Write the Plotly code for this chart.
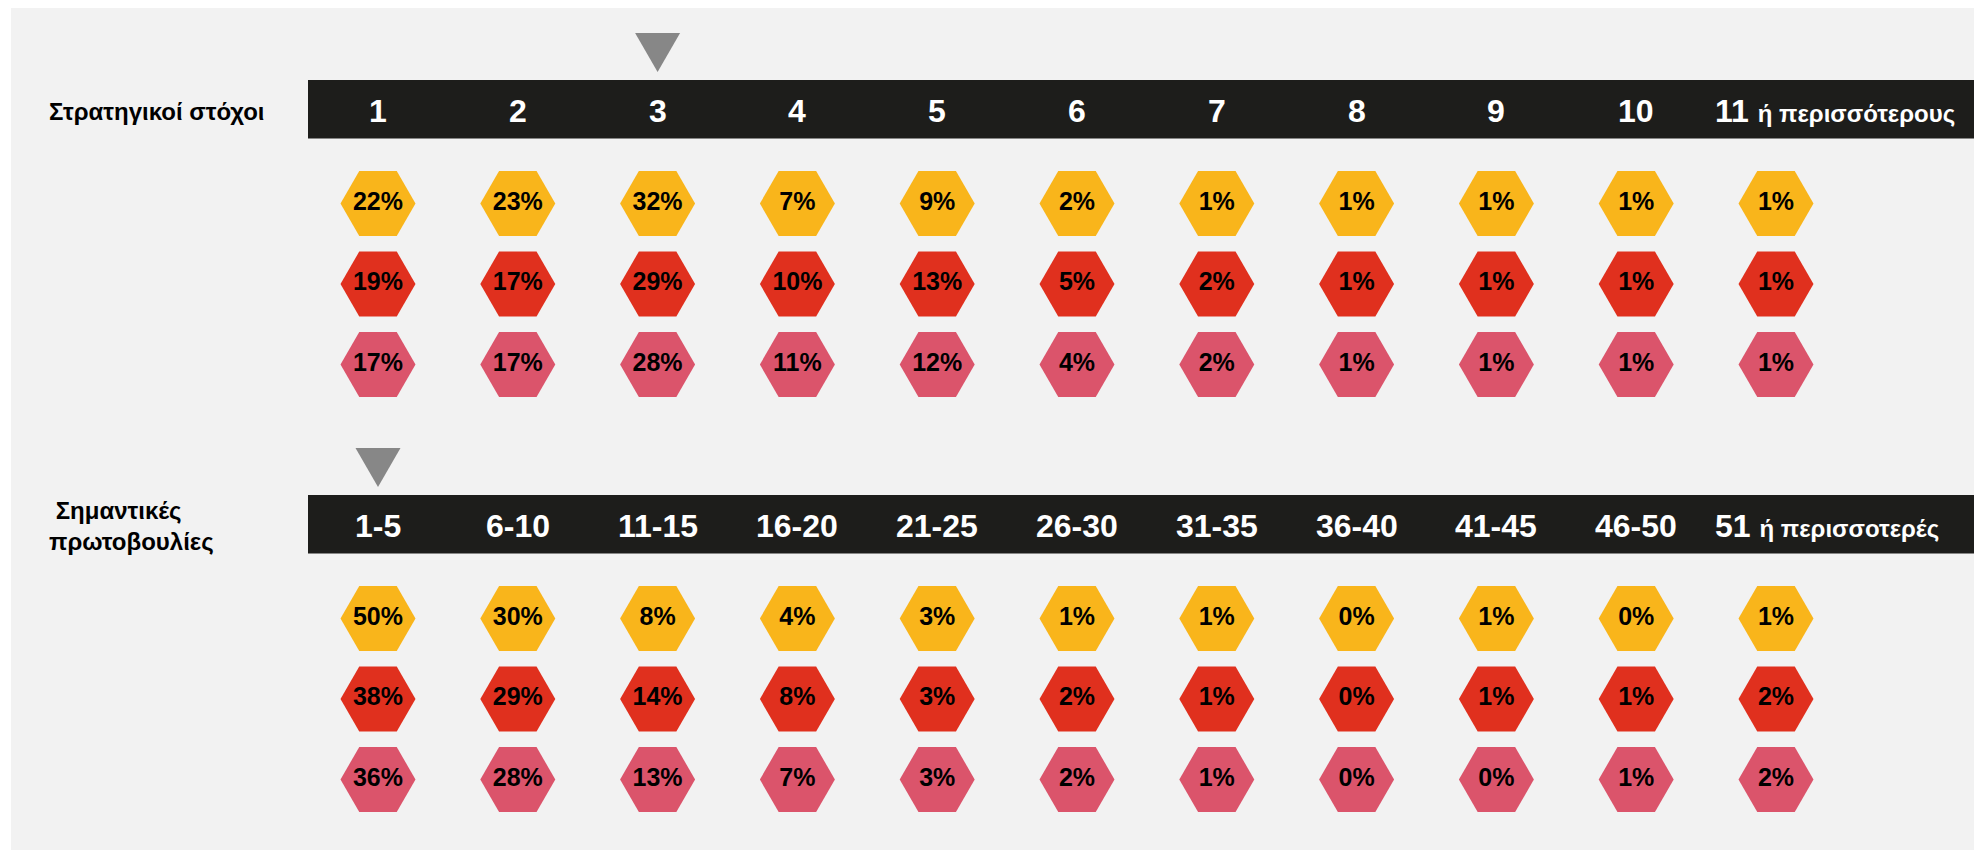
import plotly.graph_objects as go

# ---------------- data ----------------
goal_cats = ["1", "2", "3", "4", "5", "6", "7", "8", "9", "10", "11 ή περισσότερους"]
goal_row1 = [22, 23, 32, 7, 9, 2, 1, 1, 1, 1, 1]
goal_row2 = [19, 17, 29, 10, 13, 5, 2, 1, 1, 1, 1]
goal_row3 = [17, 17, 28, 11, 12, 4, 2, 1, 1, 1, 1]
goal_highlight = "3"

init_cats = ["1-5", "6-10", "11-15", "16-20", "21-25", "26-30", "31-35",
             "36-40", "41-45", "46-50", "51 ή περισσοτερές"]
init_row1 = [50, 30, 8, 4, 3, 1, 1, 0, 1, 0, 1]
init_row2 = [38, 29, 14, 8, 3, 2, 1, 0, 1, 1, 2]
init_row3 = [36, 28, 13, 7, 3, 2, 1, 0, 0, 1, 2]
init_highlight = "1-5"

row_names = ["Σειρά 1", "Σειρά 2", "Σειρά 3"]
section_titles = ["Στρατηγικοί στόχοι", "\u00a0Σημαντικές<br>πρωτοβουλίες"]

# ---------------- styles ----------------
W, H = 1982, 851
FONT = "Liberation Sans, Arial, Helvetica, sans-serif"
row_colors = ["#F9B51B", "#E0301E", "#DB546B"]
BAR = "#1D1D1B"
PANEL = "#F2F2F2"
TRI = "#878787"

# pixel geometry helpers
x_first_px, x_step_px = 378.0, 139.8
x_range = [-x_first_px / x_step_px, (W - x_first_px) / x_step_px]
row0_px, row_step_px = 203.5, 80.5
split_px = 415.0


def ypx(p):
    return (p - row0_px) / row_step_px


sections = [
    dict(cats=goal_cats, rows=[goal_row1, goal_row2, goal_row3], hl=goal_highlight,
         xa="x", ya="y", title=section_titles[0]),
    dict(cats=init_cats, rows=[init_row1, init_row2, init_row3], hl=init_highlight,
         xa="x2", ya="y2", title=section_titles[1]),
]

fig = go.Figure()
shapes = [dict(type="rect", xref="paper", yref="paper", x0=11 / W, x1=1974 / W,
               y0=1 - 850 / H, y1=1 - 8 / H, fillcolor=PANEL, line=dict(width=0), layer="below")]
annotations = []

for s in sections:
    cats = s["cats"]
    for name, vals, col in zip(row_names, s["rows"], row_colors):
        fig.add_trace(go.Scatter(
            x=cats, y=[name] * len(cats), mode="markers+text",
            marker=dict(symbol="hexagon2", size=75, color=col, line=dict(width=0)),
            text=[f"{v}%" for v in vals], textposition="middle center",
            textfont=dict(family=FONT, size=25, color="#000000", weight="bold"),
            xaxis=s["xa"], yaxis=s["ya"], showlegend=False, name=name,
            hovertemplate="%{x}: %{text}<extra></extra>"))
    # header bar
    shapes.append(dict(type="rect", xref="paper", yref=s["ya"], x0=308 / W, x1=1974 / W,
                       y0=ypx(80), y1=ypx(138.5), fillcolor=BAR, line=dict(width=0), layer="below"))
    # highlight triangle
    i = cats.index(s["hl"])
    hw = 22.5 / x_step_px
    shapes.append(dict(type="path", xref=s["xa"], yref=s["ya"],
                       path=f"M {i - hw},{ypx(33)} L {i + hw},{ypx(33)} L {i},{ypx(72)} Z",
                       fillcolor=TRI, line=dict(width=0)))
    # header labels (positioned by category serial number)
    for k, c in enumerate(cats):
        parts = c.split(" ", 1)
        if len(parts) == 2:
            txt = f"{parts[0]} <span style='font-size:24px'>{parts[1]}</span>"
            annotations.append(dict(x=k, y=ypx(111), xref=s["xa"], yref=s["ya"], text=txt,
                                    showarrow=False, xanchor="left", yanchor="middle", xshift=-63,
                                    font=dict(family=FONT, size=32, color="white", weight="bold")))
        else:
            annotations.append(dict(x=k, y=ypx(111), xref=s["xa"], yref=s["ya"], text=c,
                                    showarrow=False, xanchor="center", yanchor="middle",
                                    font=dict(family=FONT, size=32, color="white", weight="bold")))
    # section title
    annotations.append(dict(x=47 / W, y=ypx(111), xref="paper", yref=s["ya"], text=s["title"],
                            showarrow=False, xanchor="left", yanchor="middle", align="left",
                            font=dict(family=FONT, size=24, color="#000000", weight="bold")))

axis_common = dict(visible=False, showgrid=False, zeroline=False, fixedrange=True)
d1 = 1 - split_px / H
fig.update_layout(
    width=W, height=H, margin=dict(l=0, r=0, t=0, b=0, pad=0),
    paper_bgcolor="white", plot_bgcolor="rgba(0,0,0,0)",
    xaxis=dict(type="category", categoryorder="array", categoryarray=goal_cats,
               range=x_range, domain=[0, 1], anchor="y", **axis_common),
    xaxis2=dict(type="category", categoryorder="array", categoryarray=init_cats,
                range=x_range, domain=[0, 1], anchor="y2", **axis_common),
    yaxis=dict(type="category", categoryorder="array", categoryarray=row_names,
               range=[ypx(split_px), ypx(0)], domain=[d1, 1], anchor="x", **axis_common),
    yaxis2=dict(type="category", categoryorder="array", categoryarray=row_names,
                range=[ypx(H - split_px), ypx(0)], domain=[0, d1], anchor="x2", **axis_common),
    shapes=shapes, annotations=annotations,
    font=dict(family=FONT),
)

fig.write_html("out.html", config={"displayModeBar": False},
               post_script="document.body.style.margin='0';document.body.style.overflow='hidden';")
